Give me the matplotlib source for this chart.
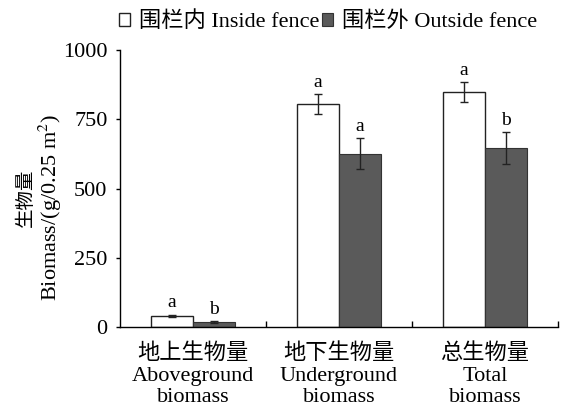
import matplotlib
matplotlib.use("Agg")
import matplotlib.pyplot as plt
from matplotlib.patches import Patch
import numpy as np

plt.rcParams['font.family'] = ['Liberation Serif', 'Noto Sans CJK SC']
plt.rcParams['mathtext.fontset'] = 'stix'

categories = ["地上生物量\nAboveground\nbiomass",
              "地下生物量\nUnderground\nbiomass",
              "总生物量\nTotal\nbiomass"]
inside = [40, 805, 847]
inside_err = [5, 36, 36]
outside = [19, 626, 646]
outside_err = [3, 55, 58]
inside_letters = ["a", "a", "a"]
outside_letters = ["b", "a", "b"]
series_names = ["围栏内 Inside fence", "围栏外 Outside fence"]
yticks = [0, 250, 500, 750, 1000]

fs = 16

fig = plt.figure(figsize=(5.65, 4.11), dpi=100)
ax = fig.add_axes([120/565, 1-327/411, 438/565, 277/411])

x = np.arange(len(categories))
w = 0.29
dark = "#5a5a5a"
ax.bar(x - w/2, inside, w, color="white", edgecolor="#222222", linewidth=1.0, zorder=2)
ax.bar(x + w/2, outside, w, color=dark, edgecolor="#333333", linewidth=0.8, zorder=2)
ax.errorbar(x - w/2, inside, yerr=inside_err, fmt="none", ecolor="#222222",
            elinewidth=1.0, capsize=3, capthick=1.0, zorder=3)
ax.errorbar(x + w/2, outside, yerr=outside_err, fmt="none", ecolor="#222222",
            elinewidth=1.0, capsize=3, capthick=1.0, zorder=3)

for xi, v, e, s in zip(x - w/2, inside, inside_err, inside_letters):
    ax.text(xi, v + e + 12, s, ha="center", va="bottom", fontsize=14)
for xi, v, e, s in zip(x + w/2, outside, outside_err, outside_letters):
    ax.text(xi, v + e + 12, s, ha="center", va="bottom", fontsize=14)

ax.set_xlim(-0.5, 2.5)
ax.set_ylim(0, 1000)
ax.set_yticks(yticks)
ax.set_yticklabels([str(t) for t in yticks], fontsize=fs)
ax.set_xticks(x)
ax.set_xticklabels(categories, fontsize=fs, linespacing=1.15)
ax.tick_params(axis="x", length=0, pad=12)
ax.set_xticks([0.5, 1.5, 2.5], minor=True)
ax.tick_params(axis="x", which="minor", direction="in", length=4, width=1)
ax.tick_params(axis="y", direction="out", length=3, width=1, pad=6)
for side in ("top", "right"):
    ax.spines[side].set_visible(False)
for side in ("left", "bottom"):
    ax.spines[side].set_linewidth(1.0)

fig.text(26/565, 1-198/411, "生物量", rotation=90, ha="center", va="center", fontsize=14)
fig.text(50/565, 1-208/411, "Biomass/(g/0.25 m$^2$)", rotation=90,
         ha="center", va="center", fontsize=fs)

handles = [Patch(facecolor="white", edgecolor="#222222", linewidth=1.0),
           Patch(facecolor=dark, edgecolor="#333333", linewidth=0.8)]
fig.legend(handles, series_names, loc="center", bbox_to_anchor=(328/565, 1-22/411),
           ncol=2, frameon=False, fontsize=fs, handlelength=0.5, handleheight=0.5,
           handletextpad=0.4, columnspacing=0.1, borderpad=0)

fig.savefig("out.png", dpi=100)
